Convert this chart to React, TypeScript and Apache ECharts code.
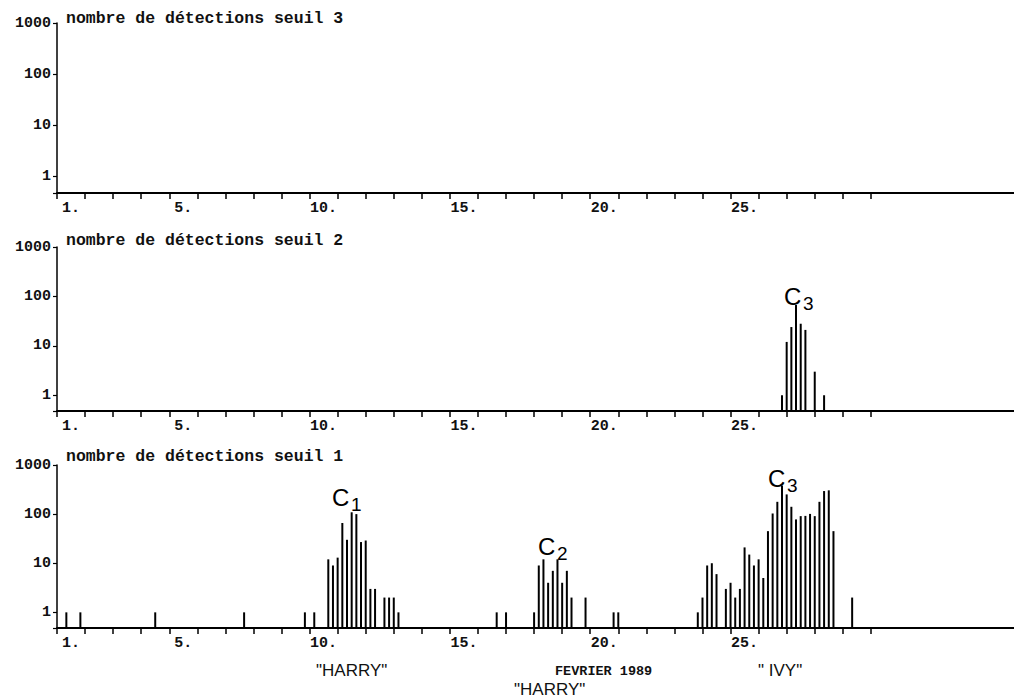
import React, { useEffect, useRef } from 'react';
import * as echarts from 'echarts';

// ---------- data ----------
const PANEL_TITLES = [
  'nombre de détections seuil 3',
  'nombre de détections seuil 2',
  'nombre de détections seuil 1',
];

// x = day of February 1989 (+ fraction of day, 4-hour slots)
const seuil3Times: number[] = [];
const seuil3Counts: number[] = [];

const seuil2Times = [26.833, 27.0, 27.167, 27.333, 27.5, 27.667, 28.0, 28.333];
const seuil2Counts = [1, 12, 24, 67, 28, 21, 3, 1];

const seuil1Times = [
  1.333, 1.833, 4.5, 7.667, 9.833, 10.167,
  10.667, 10.833, 11.0, 11.167, 11.333, 11.5, 11.667, 11.833, 12.0, 12.167, 12.333, 12.667, 12.833, 13.0, 13.167,
  16.667, 17.0,
  18.0, 18.167, 18.333, 18.5, 18.667, 18.833, 19.0, 19.167, 19.333, 19.833, 20.833, 21.0,
  23.833, 24.0, 24.167, 24.333, 24.5, 24.833, 25.0, 25.167, 25.333, 25.5, 25.667, 25.833,
  26.0, 26.167, 26.333, 26.5, 26.667, 26.833, 27.0, 27.167, 27.333, 27.5, 27.667, 27.833,
  28.0, 28.167, 28.333, 28.5, 28.667, 29.333,
];
const seuil1Counts = [
  1, 1, 1, 1, 1, 1,
  12, 9, 13, 66, 30, 109, 100, 27, 29, 3, 3, 2, 2, 2, 1,
  1, 1,
  1, 9, 12, 4, 7, 12, 4, 7, 2, 2, 1, 1,
  1, 2, 9, 10, 6, 3, 4, 2, 3, 21, 15, 9,
  12, 5, 45, 103, 178, 380, 252, 141, 78, 91, 92, 101,
  91, 178, 295, 305, 45, 2,
];

const X_TICKS = [1, 2, 3, 4, 5, 6, 7, 8, 9, 10, 11, 12, 13, 14, 15, 16, 17, 18, 19, 20, 21, 22, 23, 24, 25, 26, 27, 28, 29, 30];
const X_LABEL_DAYS = [1, 5, 10, 15, 20, 25];

const ANNOTATIONS = [
  { main: 'C', sub: '3', x: 784, y: 296 },
  { main: 'C', sub: '1', x: 332, y: 497 },
  { main: 'C', sub: '2', x: 538, y: 546 },
  { main: 'C', sub: '3', x: 768, y: 478 },
];

const FOOT_TEXTS = [
  { text: '"HARRY"', x: 316, y: 670, mono: false },
  { text: 'FEVRIER 1989', x: 555, y: 671, mono: true },
  { text: '" IVY"', x: 758, y: 670, mono: false },
  { text: '"HARRY"', x: 514, y: 689, mono: false },
];

// ---------- layout ----------
const GRIDS = [
  { top: 23, height: 170, titleY: 18 },
  { top: 247, height: 164, titleY: 240 },
  { top: 465, height: 163, titleY: 456 },
];
const Y_MIN = 0.48;
const Y_MAX = 1000;
const MONO = '"Liberation Mono", "DejaVu Sans Mono", monospace';
const SANS = '"Liberation Sans", Arial, sans-serif';

const PANEL_DATA = [
  { times: seuil3Times, counts: seuil3Counts },
  { times: seuil2Times, counts: seuil2Counts },
  { times: seuil1Times, counts: seuil1Counts },
];

function buildOption(): any {
  const grid = GRIDS.map((g) => ({ left: 57, right: 0, top: g.top, height: g.height }));

  const xAxis = GRIDS.map((_, i) => ({
    type: 'value',
    gridIndex: i,
    min: 1,
    max: 35.1,
    axisLine: { show: true, onZero: false, lineStyle: { color: '#000', width: 2 } },
    axisTick: {
      show: true,
      customValues: X_TICKS,
      length: 6,
      lineStyle: { color: '#000', width: 1.5 },
    },
    axisLabel: {
      show: true,
      customValues: X_LABEL_DAYS.map((d) => d + 0.5),
      formatter: (v: number) => Math.floor(v) + '.',
      color: '#111',
      fontFamily: MONO,
      fontWeight: 'bold',
      fontSize: 15,
      margin: 8,
    },
    splitLine: { show: false },
  }));

  const yAxis = GRIDS.map((_, i) => ({
    type: 'log',
    logBase: 10,
    gridIndex: i,
    min: Y_MIN,
    max: Y_MAX,
    axisLine: { show: true, lineStyle: { color: '#000', width: 1.5 } },
    axisTick: { show: true, length: 4, lineStyle: { color: '#000', width: 1.2 } },
    axisLabel: {
      show: true,
      formatter: (v: number) => {
        const l = Math.log10(v);
        return Math.abs(l - Math.round(l)) < 1e-6 ? String(Math.round(v)) : '';
      },
      color: '#111',
      fontFamily: MONO,
      fontWeight: 'bold',
      fontSize: 15,
      margin: 6,
    },
    splitLine: { show: false },
  }));

  const series = PANEL_DATA.map((p, i) => ({
    type: 'custom',
    xAxisIndex: i,
    yAxisIndex: i,
    data: p.times.map((t, k) => [t, p.counts[k]]),
    renderItem: (params: any, api: any) => {
      const pt = api.coord([api.value(0), api.value(1)]);
      const cs = params.coordSys;
      const bottom = cs.y + cs.height;
      return {
        type: 'rect',
        shape: { x: pt[0] - 1, y: pt[1], width: 2, height: bottom - pt[1] },
        style: { fill: '#000' },
      };
    },
  }));

  const graphic: any[] = [];
  GRIDS.forEach((g, i) => {
    graphic.push({
      type: 'text',
      x: 66,
      y: g.titleY,
      style: {
        text: PANEL_TITLES[i],
        fill: '#111',
        fontFamily: MONO,
        fontWeight: 'bold',
        fontSize: 16.5,
        align: 'left',
        verticalAlign: 'middle',
      },
    });
  });
  ANNOTATIONS.forEach((a) => {
    graphic.push({
      type: 'text',
      x: a.x,
      y: a.y,
      style: { text: a.main, fill: '#000', fontFamily: SANS, fontSize: 24, align: 'left', verticalAlign: 'middle' },
    });
    graphic.push({
      type: 'text',
      x: a.x + 19,
      y: a.y + 7,
      style: { text: a.sub, fill: '#000', fontFamily: SANS, fontSize: 19, align: 'left', verticalAlign: 'middle' },
    });
  });
  FOOT_TEXTS.forEach((f) => {
    graphic.push({
      type: 'text',
      x: f.x,
      y: f.y,
      style: f.mono
        ? { text: f.text, fill: '#111', fontFamily: MONO, fontWeight: 'bold', fontSize: 13.5, align: 'left', verticalAlign: 'middle' }
        : { text: f.text, fill: '#111', fontFamily: SANS, fontSize: 17, align: 'left', verticalAlign: 'middle' },
    });
  });

  return {
    animation: false,
    backgroundColor: '#fff',
    grid,
    xAxis,
    yAxis,
    series,
    graphic,
  };
}

export default function App() {
  const ref = useRef<HTMLDivElement>(null);
  useEffect(() => {
    if (!ref.current) return;
    const chart = echarts.init(ref.current, undefined, { renderer: 'svg' });
    chart.setOption(buildOption());
    return () => chart.dispose();
  }, []);
  return (
    <div
      ref={ref}
      style={{ position: 'absolute', left: 0, top: 0, width: 1014, height: 697, background: '#fff' }}
    />
  );
}
